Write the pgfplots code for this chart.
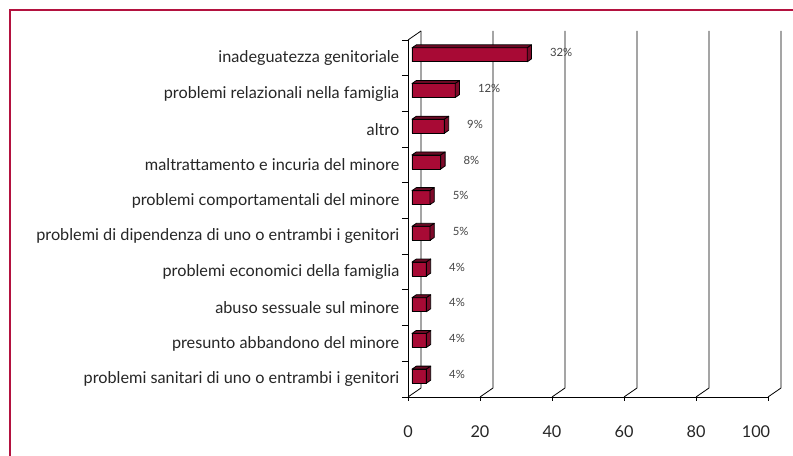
\documentclass[border=0pt]{standalone}
\usepackage{pgfplots}
\pgfplotsset{compat=1.18}
\usepackage{fontspec}
\setmainfont{Lato}
\definecolor{barred}{HTML}{A80A35}
\definecolor{bartop}{HTML}{6A0A24}
\definecolor{barside}{HTML}{7E0A2A}
\definecolor{framecol}{HTML}{B3123F}
\definecolor{lblgray}{HTML}{444444}
\pgfdeclareplotmark{bartd}{%
  \pgfmathsetmacro\L{\rawx*2.7}%
  \pgfsetlinewidth{0.6pt}%
  \pgfsetroundjoin
  \pgfsetstrokecolor{black}%
  \pgfsetfillcolor{bartop}%
  \pgfpathmoveto{\pgfpoint{3pt-\L pt}{7.5pt}}%
  \pgfpathlineto{\pgfpoint{3pt}{7.5pt}}%
  \pgfpathlineto{\pgfpoint{6.25pt}{9.75pt}}%
  \pgfpathlineto{\pgfpoint{6.25pt-\L pt}{9.75pt}}%
  \pgfpathclose
  \pgfusepath{fill,stroke}%
  \pgfsetfillcolor{barside}%
  \pgfpathmoveto{\pgfpoint{3pt}{-3pt}}%
  \pgfpathlineto{\pgfpoint{3pt}{7.5pt}}%
  \pgfpathlineto{\pgfpoint{6.25pt}{9.75pt}}%
  \pgfpathlineto{\pgfpoint{6.25pt}{-0.75pt}}%
  \pgfpathclose
  \pgfusepath{fill,stroke}%
}
\begin{document}
\begin{tikzpicture}
\useasboundingbox (0,0) rectangle (594.75pt,342pt);
\fill[white] (0,0) rectangle (594.75pt,342pt);
\draw[framecol, line width=1.5pt] (7.5pt,0) -- (7.5pt,334.5pt) -- (594.75pt,334.5pt);
\begin{axis}[
  at={(306pt,44.25pt)}, anchor=south west,
  scale only axis, x=2.7pt, y=26.775pt,
  xmin=0, xmax=100, ymin=0.5, ymax=10.5,
  axis x line*=bottom, axis y line*=left,
  axis line style={line width=0.6pt},
  xtick={0,20,40,60,80},
  extra x ticks={100},
  extra x tick style={xticklabel style={xshift=-9pt}},
  ytick={1,...,10},
  major y tick style={draw=none},
  minor ytick={0.5,1.5,...,10.5},
  minor tick length=4.5pt,
  major tick length=3pt,
  tick align=outside,
  tick style={black, line width=0.6pt},
  yticklabels={problemi sanitari di uno o entrambi i genitori, presunto abbandono del minore, abuso sessuale sul minore, problemi economici della famiglia, problemi di dipendenza di uno o entrambi i genitori, problemi comportamentali del minore, maltrattamento e incuria del minore, altro, problemi relazionali nella famiglia, inadeguatezza genitoriale},
  tick label style={font=\fontsize{12.2}{14}\selectfont, text=black!85},
  xticklabel style={yshift=-15pt},
  /pgf/number format/assume math mode=true,
  clip=false,
]
\pgfplotsinvokeforeach{0,20,40,60,80,100}{
  \draw[black, line width=0.6pt] (axis cs:#1,0.5) -- ([shift={(9.75pt,6.75pt)}]axis cs:#1,0.5) -- ([shift={(9.75pt,6.75pt)}]axis cs:#1,10.5);
}
\draw[black, line width=0.6pt] (axis cs:0,10.5) -- ([shift={(9.75pt,6.75pt)}]axis cs:0,10.5);

\addplot[xbar, bar width=10.5pt, bar shift=2.25pt, xshift=3pt, fill=barred, draw=black, line width=0.6pt]
  coordinates {(32,10) (12,9) (9,8) (8,7) (5,6) (5,5) (4,4) (4,3) (4,2) (4,1)};

\addplot[only marks, mark=bartd, point meta=x,
  visualization depends on={rawx \as \rawx},
  nodes near coords={\pgfmathprintnumber{\pgfplotspointmeta}\%},
  every node near coord/.append style={anchor=west, xshift=16.5pt, yshift=3.75pt, font=\fontsize{8.5}{10}\selectfont, text=lblgray},
]
  coordinates {(32,10) (12,9) (9,8) (8,7) (5,6) (5,5) (4,4) (4,3) (4,2) (4,1)};
\end{axis}
\end{tikzpicture}
\end{document}
